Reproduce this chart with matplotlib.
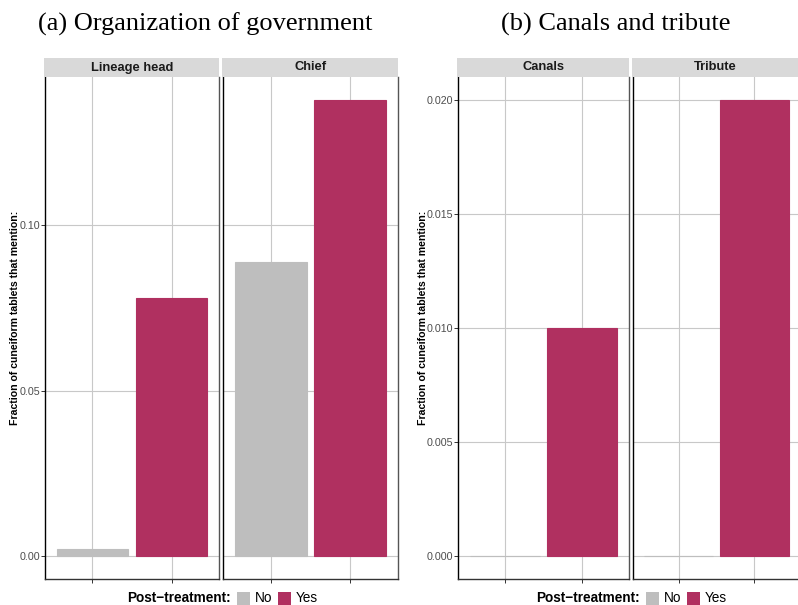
import matplotlib
matplotlib.use("Agg")
import matplotlib.pyplot as plt
from matplotlib.patches import Rectangle

plt.rcParams['font.family'] = ['Liberation Sans', 'DejaVu Sans']

# ---- data ----
groups = ["No", "Yes"]
panel_a_facets = ["Lineage head", "Chief"]
panel_a_values = [[0.0021, 0.078], [0.089, 0.138]]
panel_a_ticks = [0.00, 0.05, 0.10]
panel_a_ticklabels = ["0.00", "0.05", "0.10"]

panel_b_facets = ["Canals", "Tribute"]
panel_b_values = [[0.0, 0.010], [0.0, 0.020]]
panel_b_ticks = [0.000, 0.005, 0.010, 0.015, 0.020]
panel_b_ticklabels = ["0.000", "0.005", "0.010", "0.015", "0.020"]

titles = ["(a) Organization of government", "(b) Canals and tribute"]
colors = {"No": "#BEBEBE", "Yes": "#B03060"}
ylabel = "Fraction of cuneiform tablets that mention:"
legend_title = "Post\u2212treatment:"

W, H = 798, 605
fig = plt.figure(figsize=(W / 100, H / 100), dpi=100)

def fx(px):
    return px / W

def fy(py):
    return 1 - py / H

plot_top, plot_bot = 77, 579
strip_top = 58

panels = [
    dict(facets=panel_a_facets, values=panel_a_values, ticks=panel_a_ticks,
         labels=panel_a_ticklabels, xs=[(45, 219), (223, 398)], title_x=205,
         ylab_x=15, leg_x=127, right_border=[True, True]),
    dict(facets=panel_b_facets, values=panel_b_values, ticks=panel_b_ticks,
         labels=panel_b_ticklabels, xs=[(458, 629), (633, 800)], title_x=616,
         ylab_x=423, leg_x=536, right_border=[True, False]),
]

for pi, p in enumerate(panels):
    vmax = max(max(v) for v in p["values"])
    pad = 0.05 * vmax
    for fi, (fname, vals) in enumerate(zip(p["facets"], p["values"])):
        x0, x1 = p["xs"][fi]
        ax = fig.add_axes([fx(x0), fy(plot_bot), fx(x1 - x0), (plot_bot - plot_top) / H])
        pos = list(range(1, len(groups) + 1))
        ax.bar(pos, vals, width=0.9, color=[colors[g] for g in groups],
               edgecolor=[colors[g] for g in groups], linewidth=0.8, zorder=3)
        ax.set_xlim(0.4, 2.6)
        ax.set_ylim(-pad, vmax + pad)
        ax.set_xticks(pos)
        ax.set_xticklabels([])
        ax.set_yticks(p["ticks"])
        ax.tick_params(axis='both', color="#333333", length=3, width=0.7, pad=0.5)
        if fi == 0:
            ax.set_yticklabels(p["labels"], color="#4D4D4D", fontsize=7.7)
        else:
            ax.set_yticklabels([])
            ax.tick_params(axis='y', length=0)
        ax.grid(True, color="#C8C8C8", linewidth=0.8, zorder=0)
        ax.set_axisbelow(True)
        ax.spines["top"].set_visible(False)
        ax.spines["left"].set_color("black")
        ax.spines["left"].set_linewidth(1.0)
        ax.spines["bottom"].set_color("#333333")
        ax.spines["bottom"].set_linewidth(1.0)
        if p["right_border"][fi]:
            ax.spines["right"].set_color("#555555")
            ax.spines["right"].set_linewidth(1.0)
        else:
            ax.spines["right"].set_visible(False)
        # strip
        sx1 = min(x1, 798)
        fig.patches.append(Rectangle((fx(x0 - 1), fy(plot_top)), fx(sx1 - x0 + 1), (plot_top - strip_top) / H,
                                     transform=fig.transFigure, facecolor="#D9D9D9",
                                     edgecolor="none", zorder=1))
        fig.text(fx((x0 + sx1) / 2), fy((strip_top + plot_top) / 2), fname,
                 ha="center", va="center", fontsize=9.3, fontweight="bold", color="#1A1A1A")
    # title
    fig.text(fx(p["title_x"]), fy(22), titles[pi], ha="center", va="center_baseline",
             fontsize=19, family=["Liberation Serif", "DejaVu Serif"], color="black")
    # ylabel
    fig.text(fx(p["ylab_x"]), fy(318), ylabel, rotation=90,
             ha="center", va="center", fontsize=7.6, fontweight="bold", color="black")
    # legend
    lx = p["leg_x"]
    fig.text(fx(lx), fy(598), legend_title, ha="left", va="center",
             fontsize=9.8, fontweight="bold", color="black")
    sq = 13
    sx = lx + 110
    for g, off in zip(groups, [0, 41]):
        fig.patches.append(Rectangle((fx(sx + off), fy(598 + sq / 2)), fx(sq), sq / H,
                                     transform=fig.transFigure, facecolor=colors[g],
                                     edgecolor="none"))
        fig.text(fx(sx + off + sq + 5), fy(598), g, ha="left", va="center",
                 fontsize=9.8, color="black")

fig.savefig("out.png", dpi=100)
